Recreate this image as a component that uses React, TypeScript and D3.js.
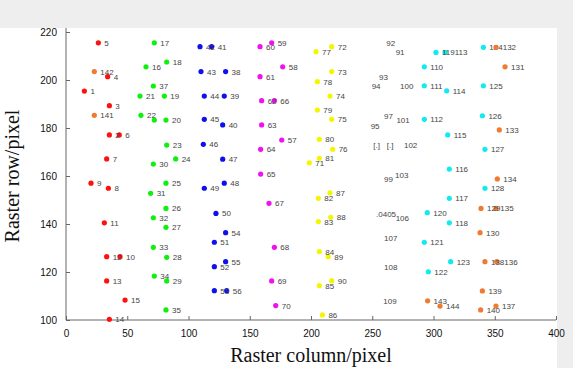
import * as React from "react";
import * as d3 from "d3";
import { useEffect, useRef } from "react";

type Pt = [number, number, string];

// column, row, label
const redPoints: Pt[] = [
  [15, 195.4, "1"], [35.4, 177.1, "2"], [35.4, 189.3, "3"], [34.0, 201.4, "4"],
  [26.4, 215.5, "5"], [43.5, 177.1, "6"], [33.2, 167.1, "7"], [34.6, 154.9, "8"],
  [20.4, 157.0, "9"], [44.1, 126.4, "10"], [31.3, 140.5, "11"], [33.2, 126.4, "12"],
  [33.2, 116.3, "13"], [35.4, 100.3, "14"], [48.2, 108.3, "15"],
];

const greenPoints: Pt[] = [
  [65.3, 205.5, "16"], [72.1, 215.5, "17"], [82.2, 207.5, "18"], [80.3, 193.3, "19"],
  [81.6, 183.3, "20"], [60.4, 193.3, "21"], [61.2, 185.3, "22"], [72.1, 183.3, ""],
  [82.2, 172.9, "23"], [89.5, 167.1, "24"], [81.6, 157.0, "25"], [81.6, 146.5, "26"],
  [81.6, 138.6, "27"], [82.2, 126.1, "28"], [82.2, 116.3, "29"], [71.3, 165.0, "30"],
  [69.1, 152.8, "31"], [71.3, 142.6, "32"], [71.3, 130.3, "33"], [72.1, 118.3, "34"],
  [81.6, 104.2, "35"], [71.3, 197.5, "37"],
];

const bluePoints: Pt[] = [
  [130.3, 203.5, "38"], [129.2, 193.3, "39"], [127.9, 181.3, "40"], [109.4, 213.9, "42"],
  [118.9, 213.9, "41"], [110.2, 203.5, "43"], [112.9, 193.3, "44"], [112.9, 183.6, "45"],
  [112.1, 173.2, "46"], [127.9, 167.0, "47"], [129.2, 157.0, "48"], [112.9, 154.9, "49"],
  [122.4, 144.4, "50"], [121.1, 132.4, "51"], [121.1, 122.2, "52"], [121.1, 112.2, "53"],
  [130.3, 136.4, "54"], [130.3, 124.3, "55"], [131.2, 112.2, "56"],
];

const magentaPoints: Pt[] = [
  [176.1, 175.0, "57"], [176.9, 205.5, "58"], [167.9, 215.5, "59"], [158.4, 213.9, "60"],
  [158.4, 201.4, "61"], [159.7, 191.4, "62"], [159.7, 181.3, "63"], [158.9, 171.1, "64"],
  [158.9, 160.8, "65"], [170.1, 191.4, "66"], [165.7, 148.6, "67"], [170.1, 130.3, "68"],
  [167.9, 116.3, "69"], [171.2, 106.0, "70"],
];

const yellowPoints: Pt[] = [
  [198.6, 165.5, "71"], [216.9, 213.9, "72"], [216.9, 203.5, "73"], [215.5, 193.3, "74"],
  [216.9, 183.6, "75"], [217.7, 171.1, "76"], [204.1, 211.8, "77"], [205.2, 199.3, "78"],
  [205.2, 187.5, "79"], [206.8, 175.3, "80"], [206.8, 167.4, "81"], [206.0, 150.7, "82"],
  [206.0, 141.0, "83"], [206.8, 128.5, "84"], [206.8, 114.3, "85"], [209.3, 102.1, "86"],
  [215.5, 153.0, "87"], [216.1, 142.8, "88"], [214.1, 126.4, "89"], [216.9, 116.4, "90"],
];

// labels whose markers are not visible
const unmarkedPoints: Pt[] = [
  [264.2, 211.5, "91"], [256.6, 215.5, "92"], [250.6, 201.4, "93"], [244.6, 197.5, "94"],
  [243.8, 180.8, "95"], [254.7, 185.1, "97"], [254.7, 158.8, "99"], [267.8, 197.5, "100"],
  [264.8, 183.3, "101"], [246.0, 172.9, "[.]"], [257.0, 172.9, "[.]"], [271.0, 172.9, "102"],
  [263.7, 160.4, "103"], [248.2, 144.2, ".0405"], [264.2, 142.4, "106"], [254.7, 134.0, "107"],
  [254.7, 122.0, "108"], [254.1, 108.0, "109"],
];

const cyanPoints: Pt[] = [
  [292.5, 205.5, "110"], [292.5, 197.6, "111"], [292.5, 183.6, "112"], [302.0, 211.5, "119113"],
  [309.4, 211.5, ""], [310.8, 195.5, "114"], [311.6, 177.1, "115"], [312.9, 162.9, "116"],
  [312.9, 150.7, "117"], [312.9, 140.5, "118"], [294.9, 144.7, "120"], [292.5, 132.4, "121"],
  [295.8, 120.1, "122"], [314.0, 124.3, "123"], [340.7, 213.6, "124132"], [340.7, 197.6, "125"],
  [339.9, 185.1, "126"], [342.0, 171.1, "127"], [342.0, 154.9, "128"],
];

const orangePoints: Pt[] = [
  [338.8, 146.5, "129135"], [338.0, 136.4, "130"], [358.4, 205.5, "131"], [351.0, 213.6, ""],
  [353.7, 179.2, "133"], [352.1, 158.8, "134"], [351.0, 146.5, ""], [351.6, 124.3, ""],
  [351.0, 105.8, "137"], [342.0, 124.3, "138136"], [339.9, 112.1, "139"], [338.5, 104.2, "140"],
  [23.1, 185.3, "141"], [23.1, 203.5, "142"], [295.2, 108.0, "143"], [305.3, 105.8, "144"],
];

const xTicks = [0, 50, 100, 150, 200, 250, 300, 350, 400];
const yTicks = [100, 120, 140, 160, 180, 200, 220];

const series: { pts: Pt[]; color: string }[] = [
  { pts: redPoints, color: "#ff1010" },
  { pts: greenPoints, color: "#10f010" },
  { pts: bluePoints, color: "#1010ee" },
  { pts: magentaPoints, color: "#f010f0" },
  { pts: yellowPoints, color: "#f5f500" },
  { pts: unmarkedPoints, color: "none" },
  { pts: cyanPoints, color: "#10eaf0" },
  { pts: orangePoints, color: "#f07a30" },
];

function drawChart(svgRef: React.RefObject<SVGSVGElement>) {
  const width = 573;
  const height = 368;
  const svg = d3.select(svgRef.current);
  svg.selectAll("*").remove();
  svg.attr("width", width).attr("height", height);

  const x = d3.scaleLinear().domain([0, 400]).range([66, 556]);
  const y = d3.scaleLinear().domain([100, 220]).range([320, 32]);

  // figure background
  svg.append("rect").attr("width", width).attr("height", height).attr("fill", "#ffffff");
  svg.append("rect").attr("width", width).attr("height", 28).attr("fill", "#eeeeee");
  svg
    .append("rect")
    .attr("x", 557)
    .attr("width", width - 557)
    .attr("height", height)
    .attr("fill", "#eeeeee");
  svg
    .append("rect")
    .attr("x", 66)
    .attr("y", 28)
    .attr("width", 490)
    .attr("height", 292)
    .attr("fill", "#ffffff");

  const serif = '"Liberation Serif", "Times New Roman", serif';

  // axes
  const xAxis = d3.axisBottom(x).tickValues(xTicks).tickSize(-4).tickSizeOuter(0).tickPadding(12);
  const yAxis = d3.axisLeft(y).tickValues(yTicks).tickSize(-4).tickSizeOuter(0).tickPadding(9);

  const gx = svg
    .append("g")
    .attr("transform", "translate(0,320)")
    .attr("font-family", serif)
    .attr("font-size", 21)
    .call(xAxis);
  gx.select(".domain").attr("stroke", "#666").attr("d", "M66,0H556");
  gx.selectAll("line").attr("stroke", "#666");
  gx.selectAll("text").attr("fill", "#111").attr("dy", "0.5em");

  const gy = svg
    .append("g")
    .attr("transform", "translate(66,0)")
    .attr("font-family", serif)
    .attr("font-size", 21)
    .call(yAxis);
  gy.select(".domain").attr("stroke", "#666").attr("d", "M0,320V28");
  gy.selectAll("line").attr("stroke", "#666");
  gy.selectAll("text").attr("fill", "#111");

  svg
    .append("text")
    .attr("x", (x(0) + x(400)) / 2)
    .attr("y", 362)
    .attr("text-anchor", "middle")
    .attr("font-family", serif)
    .attr("font-size", 20)
    .attr("fill", "#111")
    .text("Raster column/pixel");

  svg
    .append("text")
    .attr("transform", `translate(19,${(y(100) + y(220)) / 2}) rotate(-90)`)
    .attr("text-anchor", "middle")
    .attr("font-family", serif)
    .attr("font-size", 20)
    .attr("fill", "#111")
    .text("Raster row/pixel");

  // points and labels
  series.forEach((s) => {
    const g = svg.append("g");
    if (s.color !== "none") {
      g.selectAll("circle")
        .data(s.pts)
        .enter()
        .append("circle")
        .attr("cx", (d) => x(d[0]))
        .attr("cy", (d) => y(d[1]))
        .attr("r", 2.6)
        .attr("fill", s.color);
    }
    g.selectAll("text")
      .data(s.pts)
      .enter()
      .append("text")
      .attr("x", (d) => x(d[0]) + 6)
      .attr("y", (d) => y(d[1]) + 3)
      .attr("font-family", '"Liberation Sans", Arial, sans-serif')
      .attr("font-size", 8)
      .attr("fill", "#444")
      .text((d) => d[2]);
  });
}

export default function App() {
  const svg = useRef<SVGSVGElement>(null);
  useEffect(() => {
    drawChart(svg);
  }, []);
  return (
    <div style={{ position: "absolute", left: 0, top: 0 }}>
      <svg ref={svg} style={{ display: "block" }} />
    </div>
  );
}
